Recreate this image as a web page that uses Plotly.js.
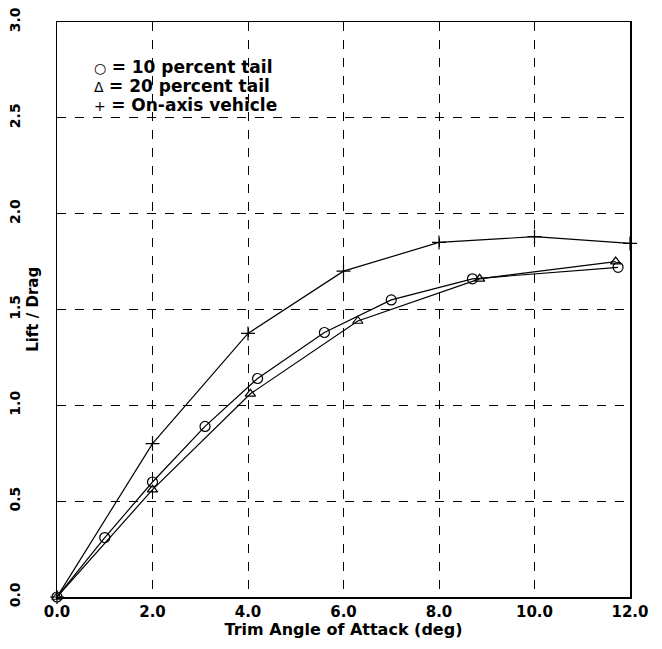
<!DOCTYPE html>
<html>
<head>
<meta charset="utf-8">
<script src="https://cdn.plot.ly/plotly-3.0.1.min.js"></script>
<style>html,body{margin:0;padding:0;background:#fff;}#chart{width:662px;height:649px;}</style>
</head>
<body>
<div id="chart"></div>
<script>
// Trim angle of attack (deg) and Lift/Drag for each configuration
const tail10_alpha = [0.0, 1.0, 2.0, 3.1, 4.2, 5.6, 7.0, 8.7, 11.75];
const tail10_ld    = [0.0, 0.31, 0.60, 0.89, 1.14, 1.38, 1.55, 1.66, 1.72];
const tail20_alpha = [0.0, 2.0, 4.05, 6.3, 8.85, 11.7];
const tail20_ld    = [0.0, 0.56, 1.06, 1.44, 1.66, 1.75];
const onaxis_alpha = [0.0, 2.0, 4.0, 6.0, 8.0, 10.0, 12.0];
const onaxis_ld    = [0.0, 0.80, 1.375, 1.70, 1.85, 1.88, 1.845];

const xTicks = [0, 2, 4, 6, 8, 10, 12];
const xTickLabels = ['0.0', '2.0', '4.0', '6.0', '8.0', '10.0', '12.0'];
const yTicks = [0, 0.5, 1.0, 1.5, 2.0, 2.5, 3.0];
const yTickLabels = ['0.0', '0.5', '1.0', '1.5', '2.0', '2.5', '3.0'];
const legendSymbols = ['\u25CB', '\u0394', '+'];
const legendLabels = ['10 percent tail', '20 percent tail', 'On-axis vehicle'];

const FONT = '"DejaVu Sans", "Liberation Sans", sans-serif';
const lineStyle = {color: '#000', width: 1.2};

const traces = [
  {x: tail10_alpha, y: tail10_ld, mode: 'lines+markers', line: lineStyle,
   marker: {symbol: 'circle-open', size: 10, color: '#000', line: {width: 1.2}}, cliponaxis: false},
  {x: tail20_alpha, y: tail20_ld, mode: 'lines+markers', line: lineStyle,
   marker: {symbol: 'triangle-up-open', size: 9, color: '#000', line: {width: 1.2}}, cliponaxis: false},
  {x: onaxis_alpha, y: onaxis_ld, mode: 'lines+markers', line: lineStyle,
   marker: {symbol: 'cross-thin-open', size: 10, color: '#000', line: {width: 1.2, color: '#000'}}, cliponaxis: false}
];

const annotations = legendLabels.map((t, i) => ({
  xref: 'paper', yref: 'paper', x: 0.061, y: 0.922 - i * 0.033,
  xanchor: 'left', yanchor: 'middle', showarrow: false,
  text: '<span style="font-size:14px">' + legendSymbols[i] + '</span> <b>= ' + t + '</b>',
  font: {family: FONT, size: 17, color: '#000'}
}));
annotations.push({
  xref: 'paper', yref: 'paper', x: -0.043, y: 0.5, xanchor: 'center', yanchor: 'middle',
  showarrow: false, textangle: -90, text: '<b>Lift / Drag</b>',
  font: {family: FONT, size: 15, color: '#000'}
});

const layout = {
  width: 662, height: 649,
  margin: {l: 57, r: 32, t: 22, b: 52},
  paper_bgcolor: '#fff', plot_bgcolor: '#fff',
  showlegend: false,
  font: {family: FONT, color: '#000'},
  xaxis: {
    range: [0, 12], tickvals: xTicks, ticktext: xTickLabels,
    tickfont: {family: FONT, size: 15, weight: 'bold'},
    showgrid: true, gridcolor: '#000', gridwidth: 1, griddash: 'dash',
    zeroline: false, showline: true, linecolor: '#000', linewidth: 1.5, mirror: true,
    ticks: '', title: {text: '<b>Trim Angle of Attack (deg)</b>', font: {family: FONT, size: 16}, standoff: 2}
  },
  yaxis: {
    range: [0, 3], tickvals: yTicks, ticktext: yTickLabels, tickangle: -90,
    tickfont: {family: FONT, size: 14, weight: 'bold'}, ticklabelstandoff: 30,
    showgrid: true, gridcolor: '#000', gridwidth: 1, griddash: 'dash',
    zeroline: false, showline: true, linecolor: '#000', linewidth: 1.5, mirror: true,
    ticks: ''
  },
  annotations: annotations
};

Plotly.newPlot('chart', traces, layout, {displayModeBar: false, staticPlot: true});
</script>
</body>
</html>
